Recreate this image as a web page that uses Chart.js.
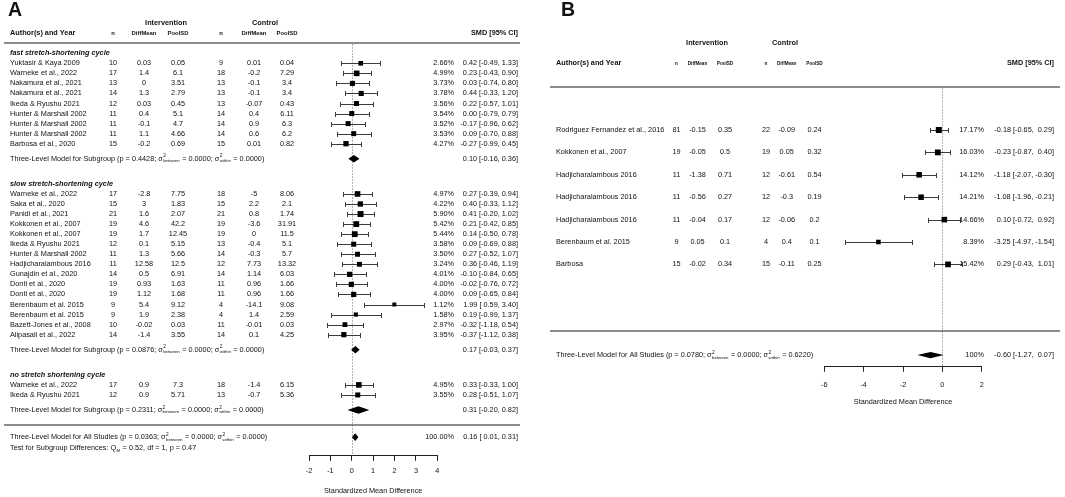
<!DOCTYPE html>
<html>
<head>
<meta charset="utf-8">
<script src="https://cdn.jsdelivr.net/npm/chart.js@4.4.0/dist/chart.umd.min.js"></script>
<style>
  html, body { margin: 0; padding: 0; background: #fff; }
  #wrap { position: relative; width: 1065px; height: 497px; }
  canvas { position: absolute; left: 0; top: 0; }
</style>
</head>
<body>
<div id="wrap">
  <canvas id="chartA" width="1065" height="497"></canvas>
  <canvas id="chartB" width="1065" height="497"></canvas>
</div>
<script>
// ---------- panel A data (subgroups by stretch-shortening cycle) ----------
const groupsA = ['fast stretch-shortening cycle', 'slow stretch-shortening cycle', 'no stretch shortening cycle'];
const studyGroupA = [0, 0, 0, 0, 0, 0, 0, 0, 0, 1, 1, 1, 1, 1, 1, 1, 1, 1, 1, 1, 1, 1, 1, 1, 2, 2];
const studiesA = [
  'Yuktasir & Kaya 2009', 'Warneke et al., 2022', 'Nakamura et al., 2021', 'Nakamura et al., 2021',
  'Ikeda & Ryushu 2021', 'Hunter & Marshall 2002', 'Hunter & Marshall 2002', 'Hunter & Marshall 2002',
  'Barbosa et al., 2020',
  'Warneke et al., 2022', 'Saka et al., 2020', 'Panidi et al., 2021', 'Kokkonen et al., 2007',
  'Kokkonen et al., 2007', 'Ikeda & Ryushu 2021', 'Hunter & Marshall 2002', 'Hadjicharalambous 2016',
  'Gunajdin et al., 2020', 'Donti et al., 2020', 'Donti et al., 2020', 'Berenbaum et al. 2015',
  'Berenbaum et al. 2015', 'Bazett-Jones et al., 2008', 'Alipasali et al., 2022',
  'Warneke et al., 2022', 'Ikeda & Ryushu 2021'
];
const nIntA     = [10, 17, 13, 14, 12, 11, 11, 11, 15, 17, 15, 21, 19, 19, 12, 11, 11, 14, 19, 19, 9, 9, 10, 14, 17, 12];
const meanIntA  = [0.03, 1.4, 0, 1.3, 0.03, 0.4, -0.1, 1.1, -0.2, -2.8, 3, 1.6, 4.6, 1.7, 0.1, 1.3, 12.58, 0.5, 0.93, 1.12, 5.4, 1.9, -0.02, -1.4, 0.9, 0.9];
const sdIntA    = [0.05, 6.1, 3.51, 2.79, 0.45, 5.1, 4.7, 4.66, 0.69, 7.75, 1.83, 2.07, 42.2, 12.45, 5.15, 5.66, 12.5, 6.91, 1.63, 1.68, 9.12, 2.38, 0.03, 3.55, 7.3, 5.71];
const nCtlA     = [9, 18, 13, 13, 13, 14, 14, 14, 15, 18, 15, 21, 19, 19, 13, 14, 12, 14, 11, 11, 4, 4, 11, 14, 18, 13];
const meanCtlA  = [0.01, -0.2, -0.1, -0.1, -0.07, 0.4, 0.9, 0.6, 0.01, -5, 2.2, 0.8, -3.6, 0, -0.4, -0.3, 7.73, 1.14, 0.96, 0.96, -14.1, 1.4, -0.01, 0.1, -1.4, -0.7];
const sdCtlA    = [0.04, 7.29, 3.4, 3.4, 0.43, 6.11, 6.3, 6.2, 0.82, 8.06, 2.1, 1.74, 31.91, 11.5, 5.1, 5.7, 13.32, 6.03, 1.66, 1.66, 9.08, 2.59, 0.03, 4.25, 6.15, 5.36];
const weightA   = [2.66, 4.99, 3.73, 3.78, 3.56, 3.54, 3.52, 3.53, 4.27, 4.97, 4.22, 5.90, 5.42, 5.44, 3.58, 3.50, 3.24, 4.01, 4.00, 4.00, 1.12, 1.58, 2.97, 3.95, 4.95, 3.55];
const smdA      = [0.42, 0.23, 0.03, 0.44, 0.22, 0.00, -0.17, 0.09, -0.27, 0.27, 0.40, 0.41, 0.21, 0.14, 0.09, 0.27, 0.36, -0.10, -0.02, 0.09, 1.99, 0.19, -0.32, -0.37, 0.33, 0.28];
const lowerA    = [-0.49, -0.43, -0.74, -0.33, -0.57, -0.79, -0.96, -0.70, -0.99, -0.39, -0.33, -0.20, -0.42, -0.50, -0.69, -0.52, -0.46, -0.84, -0.76, -0.65, 0.59, -0.99, -1.18, -1.12, -0.33, -0.51];
const upperA    = [1.33, 0.90, 0.80, 1.20, 1.01, 0.79, 0.62, 0.88, 0.45, 0.94, 1.12, 1.02, 0.85, 0.78, 0.88, 1.07, 1.19, 0.65, 0.72, 0.84, 3.40, 1.37, 0.54, 0.38, 1.00, 1.07];

const subSmdA     = [0.10, 0.17, 0.31];
const subLowerA   = [-0.16, -0.03, -0.20];
const subUpperA   = [0.36, 0.37, 0.82];
const subPA       = ['0.4428', '0.0876', '0.2311'];
const subBetweenA = ['0.0000', '0.0000', '0.0000'];
const subWithinA  = ['0.0000', '0.0000', '0.0000'];

const allA = [0.16, 0.01, 0.31];               // estimate, lower, upper
const allStatsA = ['0.0363', '0.0000', '0.0000']; // p, sigma2 between, sigma2 within
const allPctA = '100.00%';
const testA = ['0.52', '1', '0.47'];           // QM, df, p
const ticksA = [-2, -1, 0, 1, 2, 3, 4];

// ---------- panel B data (all studies) ----------
const studiesB = [
  'Rodriguez Fernandez et al., 2016', 'Kokkonen et al., 2007', 'Hadjicharalambous 2016',
  'Hadjicharalambous 2016', 'Hadjicharalambous 2016', 'Berenbaum et al. 2015', 'Barbosa'
];
const nIntB    = [81, 19, 11, 11, 11, 9, 15];
const meanIntB = [-0.15, -0.05, -1.38, -0.56, -0.04, 0.05, -0.02];
const sdIntB   = [0.35, 0.5, 0.71, 0.27, 0.17, 0.1, 0.34];
const nCtlB    = [22, 19, 12, 12, 12, 4, 15];
const meanCtlB = [-0.09, 0.05, -0.61, -0.3, -0.06, 0.4, -0.11];
const sdCtlB   = [0.24, 0.32, 0.54, 0.19, 0.2, 0.1, 0.25];
const weightB  = [17.17, 16.03, 14.12, 14.21, 14.66, 8.39, 15.42];
const smdB     = [-0.18, -0.23, -1.18, -1.08, 0.10, -3.25, 0.29];
const lowerB   = [-0.65, -0.87, -2.07, -1.96, -0.72, -4.97, -0.43];
const upperB   = [0.29, 0.40, -0.30, -0.21, 0.92, -1.54, 1.01];

const allB = [-0.60, -1.27, 0.07];
const allStatsB = ['0.0780', '0.0000', '0.6220'];
const allPctB = '100%';
const ticksB = [-6, -4, -2, 0, 2];

const colHeads = ['n', 'DiffMean', 'PoolSD', 'n', 'DiffMean', 'PoolSD'];

// ---------- helpers ----------
const FONT = '"Liberation Sans", Arial, Helvetica, sans-serif';
const FS = 7.3;
const INK = '#111';

function padL(s, w) { while (s.length < w) s = ' ' + s; return s; }

function ciStrings(est, lo, hi) {
  const l = lo.map(v => v.toFixed(2)), h = hi.map(v => v.toFixed(2));
  const wl = Math.max(...l.map(s => s.length)), wh = Math.max(...h.map(s => s.length));
  return est.map((e, i) => `${e.toFixed(2)} [${padL(l[i], wl)}, ${padL(h[i], wh)}]`);
}

// plain strings plus stacked {sup, sub} pieces
function rich(ctx, parts, x, y) {
  let cx = x;
  ctx.textAlign = 'left';
  parts.forEach(p => {
    if (typeof p === 'string') {
      ctx.font = `${FS}px ${FONT}`;
      ctx.fillText(p, cx, y);
      cx += ctx.measureText(p).width;
    } else {
      let w = 0;
      if (p.sup) {
        ctx.font = `${FS * 0.66}px ${FONT}`;
        ctx.fillText(p.sup, cx + 0.4, y - FS * 0.38);
        w = Math.max(w, ctx.measureText(p.sup).width);
      }
      if (p.sub) {
        ctx.font = `${FS * 0.6}px ${FONT}`;
        ctx.fillText(p.sub, cx + 0.4, y + FS * 0.3);
        w = Math.max(w, ctx.measureText(p.sub).width);
      }
      cx += w + 0.8;
    }
  });
}

function modelText(title, p, between, within) {
  return [`${title} (p = ${p}; \u03C3`, { sup: '2', sub: 'between' }, ` = ${between}; \u03C3`,
          { sup: '2', sub: 'within' }, ` = ${within})`];
}

function forestPlugin(P) {
  return {
    id: 'forest' + P.tag,
    beforeDatasetsDraw(chart) {
      const { ctx, scales: { x, y } } = chart;
      const px = v => Math.round(x.getPixelForValue(v)) + 0.5;
      const py = v => Math.round(y.getPixelForValue(v)) + 0.5;
      ctx.save();
      // reference line at 0
      ctx.strokeStyle = '#666';
      ctx.lineWidth = 1;
      ctx.setLineDash([1, 2]);
      ctx.beginPath();
      ctx.moveTo(px(0), py(P.headRule) + 1);
      ctx.lineTo(px(0), chart.chartArea.bottom);
      ctx.stroke();
      ctx.setLineDash([]);
      // confidence intervals
      ctx.strokeStyle = '#3c3c3c';
      P.rows.forEach((row, i) => {
        const yy = py(row), a = px(P.lower[i]), b = px(P.upper[i]);
        ctx.beginPath();
        ctx.moveTo(a, yy); ctx.lineTo(b, yy);
        ctx.moveTo(a, yy - P.cap); ctx.lineTo(a, yy + P.cap);
        ctx.moveTo(b, yy - P.cap); ctx.lineTo(b, yy + P.cap);
        ctx.stroke();
      });
      // summary diamonds
      ctx.fillStyle = '#000';
      P.summaries.forEach(s => {
        const yy = y.getPixelForValue(s.row);
        ctx.beginPath();
        ctx.moveTo(x.getPixelForValue(s.lo), yy);
        ctx.lineTo(x.getPixelForValue(s.est), yy - P.dh);
        ctx.lineTo(x.getPixelForValue(s.hi), yy);
        ctx.lineTo(x.getPixelForValue(s.est), yy + P.dh);
        ctx.closePath();
        ctx.fill();
      });
      ctx.restore();
    },
    afterDraw(chart) {
      const { ctx, scales: { x, y } } = chart;
      const C = P.cols;
      const py = v => y.getPixelForValue(v);
      const reg = `${FS}px ${FONT}`, bold = `bold ${FS}px ${FONT}`;
      const put = (s, xx, yy, align, font) => { ctx.font = font; ctx.textAlign = align; ctx.fillText(s, xx, yy); };
      ctx.save();
      ctx.fillStyle = INK;
      ctx.textBaseline = 'middle';

      put(P.tag, P.tagX, 10.5, 'left', `bold 19.5px ${FONT}`);
      put('Intervention', C.intHead, py(P.topRow), 'center', bold);
      put('Control', C.ctlHead, py(P.topRow), 'center', bold);
      put('Author(s) and Year', C.label, py(P.headRow), 'left', bold);
      put('SMD [95% CI]', C.ci, py(P.headRow), 'right', bold);
      colHeads.forEach((h, k) => put(h, C.table[k], py(P.headRow) + 0.5, 'center', `bold ${P.subFs}px ${FONT}`));

      // horizontal rules
      ctx.strokeStyle = '#666';
      ctx.lineWidth = 1.4;
      [P.headRule, P.footRule].forEach(r => {
        const yy = Math.round(py(r));
        ctx.beginPath(); ctx.moveTo(C.ruleL, yy); ctx.lineTo(C.ruleR, yy); ctx.stroke();
      });

      // subgroup headings
      (P.groupHeads || []).forEach(g => put(g.text, C.label, py(g.row), 'left', `italic bold ${FS}px ${FONT}`));

      // study rows
      P.rows.forEach((row, i) => {
        const yy = py(row);
        put(P.studies[i], C.label, yy, 'left', reg);
        P.table.forEach((col, k) => put(String(col[i]), C.table[k], yy, 'center', reg));
        put(P.weight[i].toFixed(2) + '%', C.pct, yy, 'right', reg);
        put(P.ci[i], C.ci, yy, 'right', reg);
      });

      // subgroup / overall model lines
      P.summaries.forEach(s => {
        rich(ctx, s.parts, C.label, py(s.row));
        put(s.ci, C.ci, py(s.row), 'right', reg);
        if (s.pct) put(s.pct, C.pct, py(s.row), 'right', reg);
      });

      if (P.test) rich(ctx, P.test.parts, C.label, py(P.test.row));

      put('Standardized Mean Difference', (chart.chartArea.left + chart.chartArea.right) / 2,
          chart.chartArea.bottom + 35.5, 'center', reg);
      ctx.restore();
    }
  };
}

function buildChart(id, P, xMin, xMax, ticks, pad, tickPad) {
  const minW = Math.min(...P.weight), maxW = Math.max(...P.weight);
  return new Chart(document.getElementById(id), {
    type: 'scatter',
    data: {
      datasets: [{
        data: P.rows.map((r, i) => ({ x: P.est[i], y: r })),
        pointStyle: 'rect',
        pointRadius: P.weight.map(w => (P.sq[0] + (P.sq[1] - P.sq[0]) * (w - minW) / (maxW - minW)) / Math.SQRT2),
        backgroundColor: '#000',
        borderWidth: 0,
        clip: false
      }]
    },
    options: {
      responsive: false,
      animation: false,
      events: [],
      layout: { padding: pad },
      plugins: { legend: { display: false }, tooltip: { enabled: false } },
      scales: {
        x: {
          type: 'linear', min: xMin, max: xMax,
          afterBuildTicks: s => { s.ticks = ticks.map(v => ({ value: v })); },
          ticks: { color: INK, font: { family: FONT, size: FS }, padding: tickPad, maxRotation: 0 },
          grid: { drawOnChartArea: false, drawTicks: true, tickLength: 5, color: '#222', tickColor: '#222' },
          border: { display: true, color: '#222', width: 1 }
        },
        y: { type: 'linear', reverse: true, display: false, min: -6, max: 40 }
      }
    },
    plugins: [forestPlugin(P)]
  });
}

// place rows: map pixel of row 0 and row height through the y scale range
function calibrate(chart, px0, unit) {
  const a = chart.chartArea;
  chart.options.scales.y.min = -(px0 - a.top) / unit;
  chart.options.scales.y.max = (a.bottom - px0) / unit;
  chart.update('none');
}

// ---------- panel A layout ----------
const rowsA = [], groupHeadsA = [], subRowsA = [];
let r = 0;
groupsA.forEach((g, gi) => {
  groupHeadsA.push({ text: g, row: r - 1 });
  studyGroupA.forEach((sg, i) => { if (sg === gi) rowsA[i] = r++; });
  subRowsA.push(r + 0.5);
  r = r + 4;
});
const footRuleA = subRowsA[subRowsA.length - 1] + 1.5;

const ciAllA = ciStrings(smdA.concat(subSmdA, [allA[0]]), lowerA.concat(subLowerA, [allA[1]]), upperA.concat(subUpperA, [allA[2]]));
const summariesA = subSmdA.map((e, k) => ({
  row: subRowsA[k], est: e, lo: subLowerA[k], hi: subUpperA[k],
  ci: ciAllA[smdA.length + k],
  parts: modelText('Three-Level Model for Subgroup', subPA[k], subBetweenA[k], subWithinA[k])
}));
summariesA.push({
  row: footRuleA + 1.2, est: allA[0], lo: allA[1], hi: allA[2], pct: allPctA,
  ci: ciAllA[ciAllA.length - 1],
  parts: modelText('Three-Level Model for All Studies', allStatsA[0], allStatsA[1], allStatsA[2])
});

const panelA = {
  tag: 'A', tagX: 8, rows: rowsA, studies: studiesA,
  table: [nIntA, meanIntA, sdIntA, nCtlA, meanCtlA, sdCtlA],
  weight: weightA, est: smdA, lower: lowerA, upper: upperA, ci: ciAllA.slice(0, smdA.length),
  summaries: summariesA, groupHeads: groupHeadsA,
  test: { row: footRuleA + 2.3, parts: [`Test for Subgroup Differences: Q`, { sub: 'M' }, ` = ${testA[0]}, df = ${testA[1]}, p = ${testA[2]}`] },
  topRow: -4, headRow: -3, headRule: -2, footRule: footRuleA,
  cols: { label: 10, table: [113, 144, 178, 221, 254, 287], intHead: 166, ctlHead: 265, pct: 454, ci: 518, ruleL: 4, ruleR: 520 },
  subFs: 5.9, cap: 2.5, dh: 3.8, sq: [4, 6]
};

// ---------- panel B layout ----------
const rowsB = studiesB.map((_, i) => i);
const footRuleB = rowsB[rowsB.length - 1] + 2.97;
const ciAllB = ciStrings(smdB.concat([allB[0]]), lowerB.concat([allB[1]]), upperB.concat([allB[2]]));
const panelB = {
  tag: 'B', tagX: 561, rows: rowsB, studies: studiesB,
  table: [nIntB, meanIntB, sdIntB, nCtlB, meanCtlB, sdCtlB],
  weight: weightB, est: smdB, lower: lowerB, upper: upperB, ci: ciAllB.slice(0, smdB.length),
  summaries: [{
    row: footRuleB + 1.08, est: allB[0], lo: allB[1], hi: allB[2], pct: allPctB,
    ci: ciAllB[ciAllB.length - 1],
    parts: modelText('Three-Level Model for All Studies', allStatsB[0], allStatsB[1], allStatsB[2])
  }],
  topRow: -3.9, headRow: -3, headRule: -1.93, footRule: footRuleB,
  cols: { label: 556, table: [676.5, 697.5, 725, 766, 786.7, 814.5], intHead: 707, ctlHead: 785, pct: 984, ci: 1054, ruleL: 550, ruleR: 1060 },
  subFs: 4.6, cap: 2.5, dh: 3.2, sq: [4.6, 6]
};

const chartA = buildChart('chartA', panelA, -2, 4, ticksA, { left: 309, right: 1065 - 437.3, top: 0, bottom: 15.4 }, 6);
const chartB = buildChart('chartB', panelB, -6, 2, ticksB, { left: 824.3, right: 1065 - 981.7, top: 0, bottom: 98.5 }, 9);
calibrate(chartA, 63.3, 10.05);
calibrate(chartB, 130, 22.4);
</script>
</body>
</html>
